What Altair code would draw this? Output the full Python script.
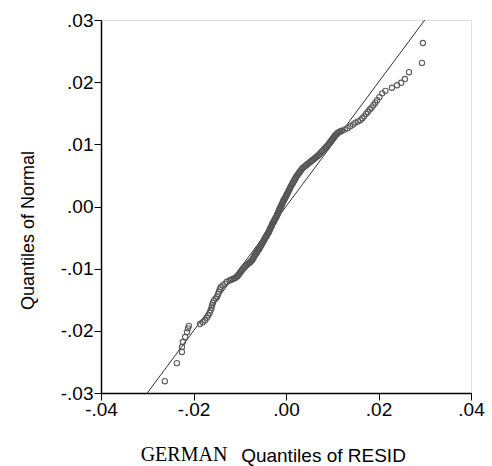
import altair as alt
import pandas as pd

# Sample quantiles of RESID (x) and quantiles of Normal (y)
resid_q = [
    -0.0262, -0.0236, -0.0225, -0.0225, -0.0223, -0.0218, -0.0214, -0.0212, -0.0210, -0.0186,
    -0.0180, -0.0175, -0.0171, -0.0168, -0.0165, -0.0163, -0.0161, -0.0160, -0.0158, -0.0156,
    -0.0152, -0.0149, -0.0147, -0.0145, -0.0143, -0.0141, -0.0137, -0.0132, -0.0128, -0.0122,
    -0.0116, -0.0110, -0.0105, -0.0101, -0.0097, -0.0093, -0.0088, -0.0083, -0.0078, -0.0074,
    -0.0071, -0.0068, -0.0065, -0.0062, -0.0059, -0.0056, -0.0053, -0.0050, -0.0047, -0.0044,
    -0.0041, -0.0039, -0.0036, -0.0034, -0.0031, -0.0029, -0.0026, -0.0024, -0.0021, -0.0019,
    -0.0017, -0.0015, -0.0013, -0.0011, -0.0009, -0.0007, -0.0005, -0.0002, 0.0001, 0.0004,
    0.0006, 0.0009, 0.0012, 0.0015, 0.0018, 0.0021, 0.0024, 0.0028, 0.0032, 0.0036,
    0.0041, 0.0046, 0.0051, 0.0056, 0.0061, 0.0066, 0.0071, 0.0076, 0.0081, 0.0086,
    0.0091, 0.0095, 0.0099, 0.0103, 0.0107, 0.0111, 0.0116, 0.0121, 0.0127, 0.0133,
    0.0139, 0.0145, 0.0150, 0.0156, 0.0161, 0.0165, 0.0169, 0.0173, 0.0177, 0.0181,
    0.0185, 0.0189, 0.0193, 0.0197, 0.0202, 0.0208, 0.0215, 0.0229, 0.0240, 0.0249,
    0.0257, 0.0266, 0.0294, 0.0296,
]
normal_q = [
    -0.0281, -0.0252, -0.0234, -0.0226, -0.0218, -0.0210, -0.0202, -0.0196, -0.0192, -0.0189,
    -0.0186, -0.0183, -0.0179, -0.0175, -0.0171, -0.0167, -0.0163, -0.0159, -0.0155, -0.0151,
    -0.0148, -0.0145, -0.0141, -0.0137, -0.0133, -0.0130, -0.0127, -0.0124, -0.0121, -0.0119,
    -0.0117, -0.0115, -0.0112, -0.0108, -0.0104, -0.0100, -0.0096, -0.0093, -0.0090, -0.0087,
    -0.0083, -0.0079, -0.0076, -0.0072, -0.0069, -0.0065, -0.0061, -0.0057, -0.0053, -0.0049,
    -0.0046, -0.0043, -0.0039, -0.0035, -0.0031, -0.0027, -0.0024, -0.0020, -0.0017, -0.0013,
    -0.0010, -0.0006, -0.0003, 0.0000, 0.0003, 0.0007, 0.0010, 0.0014, 0.0018, 0.0022,
    0.0026, 0.0030, 0.0034, 0.0038, 0.0042, 0.0046, 0.0050, 0.0054, 0.0058, 0.0062,
    0.0065, 0.0068, 0.0071, 0.0074, 0.0077, 0.0080, 0.0083, 0.0087, 0.0091, 0.0095,
    0.0099, 0.0103, 0.0107, 0.0111, 0.0115, 0.0118, 0.0120, 0.0122, 0.0124, 0.0126,
    0.0129, 0.0132, 0.0135, 0.0137, 0.0139, 0.0142, 0.0145, 0.0149, 0.0152, 0.0156,
    0.0159, 0.0163, 0.0167, 0.0171, 0.0176, 0.0182, 0.0186, 0.0191, 0.0195, 0.0199,
    0.0205, 0.0216, 0.0231, 0.0263,
]

# Further observations in the dense central band
resid_q_mid = [
    -0.0119, -0.0113, -0.0107, -0.0103, -0.0099, -0.0095, -0.0090, -0.0085, -0.0080, -0.0076,
    -0.0072, -0.0069, -0.0066, -0.0063, -0.0060, -0.0057, -0.0054, -0.0051, -0.0048, -0.0045,
    -0.0042, -0.0040, -0.0037, -0.0035, -0.0032, -0.0030, -0.0027, -0.0025, -0.0022, -0.0020,
    -0.0018, -0.0016, -0.0014, -0.0012, -0.0010, -0.0008, -0.0006, -0.0003, 0.0000, 0.0002,
    0.0005, 0.0008, 0.0010, 0.0013, 0.0016, 0.0019, 0.0022, 0.0026, 0.0030, 0.0034,
    0.0038, 0.0043, 0.0048, 0.0053, 0.0058, 0.0063, 0.0068, 0.0073, 0.0078, 0.0083,
    0.0088, 0.0093, 0.0097, 0.0101, 0.0105, 0.0109, 0.0113, 0.0118,
]
normal_q_mid = [
    -0.0118, -0.0116, -0.0113, -0.0110, -0.0106, -0.0102, -0.0098, -0.0094, -0.0091, -0.0088,
    -0.0085, -0.0081, -0.0077, -0.0074, -0.0070, -0.0067, -0.0063, -0.0059, -0.0055, -0.0051,
    -0.0047, -0.0044, -0.0041, -0.0037, -0.0033, -0.0029, -0.0025, -0.0022, -0.0018, -0.0015,
    -0.0012, -0.0008, -0.0004, -0.0002, 0.0002, 0.0005, 0.0008, 0.0012, 0.0016, 0.0020,
    0.0024, 0.0028, 0.0032, 0.0036, 0.0040, 0.0044, 0.0048, 0.0052, 0.0056, 0.0060,
    0.0063, 0.0066, 0.0069, 0.0072, 0.0075, 0.0078, 0.0081, 0.0085, 0.0089, 0.0093,
    0.0097, 0.0101, 0.0105, 0.0109, 0.0113, 0.0116, 0.0119, 0.0121,
]

# Reference line endpoints
line_x = [-0.03, 0.03]
line_y = [-0.03, 0.03]

x_ticks = [-0.04, -0.02, 0.0, 0.02, 0.04]
y_ticks = [-0.03, -0.02, -0.01, 0.0, 0.01, 0.02, 0.03]

pts = pd.DataFrame({"x": resid_q + resid_q_mid, "y": normal_q + normal_q_mid})
ln = pd.DataFrame({"x": line_x, "y": line_y})
lab = pd.DataFrame({"t": ["GERMAN"]})

label_expr = "(datum.value < 0 ? '-' : '') + replace(format(abs(datum.value), '.2f'), '0.', '.')"

xscale = alt.Scale(domain=[-0.04, 0.04], nice=False, zero=False)
yscale = alt.Scale(domain=[-0.03, 0.03], nice=False, zero=False)

xaxis = alt.Axis(
    values=x_ticks, labelExpr=label_expr, grid=False,
    title="Quantiles of RESID", titleFont="Liberation Sans", titleFontSize=19,
    titleFontWeight="normal", titleColor="black", titleX=222, titleY=62,
    titleBaseline="middle", titleAlign="center",
    labelFont="Liberation Sans", labelFontSize=19, labelColor="black", labelPadding=0,
    tickSize=7, tickColor="black", tickWidth=1, domainColor="black", domainWidth=1.5,
    labelFlush=False, labelOverlap=False,
)
yaxis = alt.Axis(
    values=y_ticks, labelExpr=label_expr, grid=False,
    title="Quantiles of Normal", titleFont="Liberation Sans", titleFontSize=18,
    titleFontWeight="normal", titleColor="black", titleX=-73, titleY=210,
    titleBaseline="middle", titleAlign="center", titleAngle=270,
    labelFont="Liberation Sans", labelFontSize=19, labelColor="black", labelPadding=1,
    tickSize=7, tickColor="black", tickWidth=1, domainColor="black", domainWidth=1.5,
    labelFlush=False, labelOverlap=False,
)

points = alt.Chart(pts).mark_point(
    shape="circle", size=28, filled=False, color="#555555", strokeWidth=1.1, opacity=0.95
).encode(
    x=alt.X("x:Q", scale=xscale, axis=xaxis),
    y=alt.Y("y:Q", scale=yscale, axis=yaxis),
)

line = alt.Chart(ln).mark_line(color="#333333", strokeWidth=1, clip=True).encode(
    x=alt.X("x:Q", scale=xscale),
    y=alt.Y("y:Q", scale=yscale),
)

german = alt.Chart(lab).mark_text(
    font="Liberation Serif", fontSize=20, color="black", align="center", baseline="middle"
).encode(text="t:N", x=alt.value(83), y=alt.value(435))

chart = alt.layer(line, points, german).properties(
    width=370, height=373,
    autosize=alt.AutoSizeParams(type="none"),
    padding={"left": 101, "top": 20, "right": 21, "bottom": 73},
).configure_view(stroke="black", strokeWidth=1.5).configure(background="white")

chart.save("out.html", embed_options={"renderer": "svg", "actions": False})
